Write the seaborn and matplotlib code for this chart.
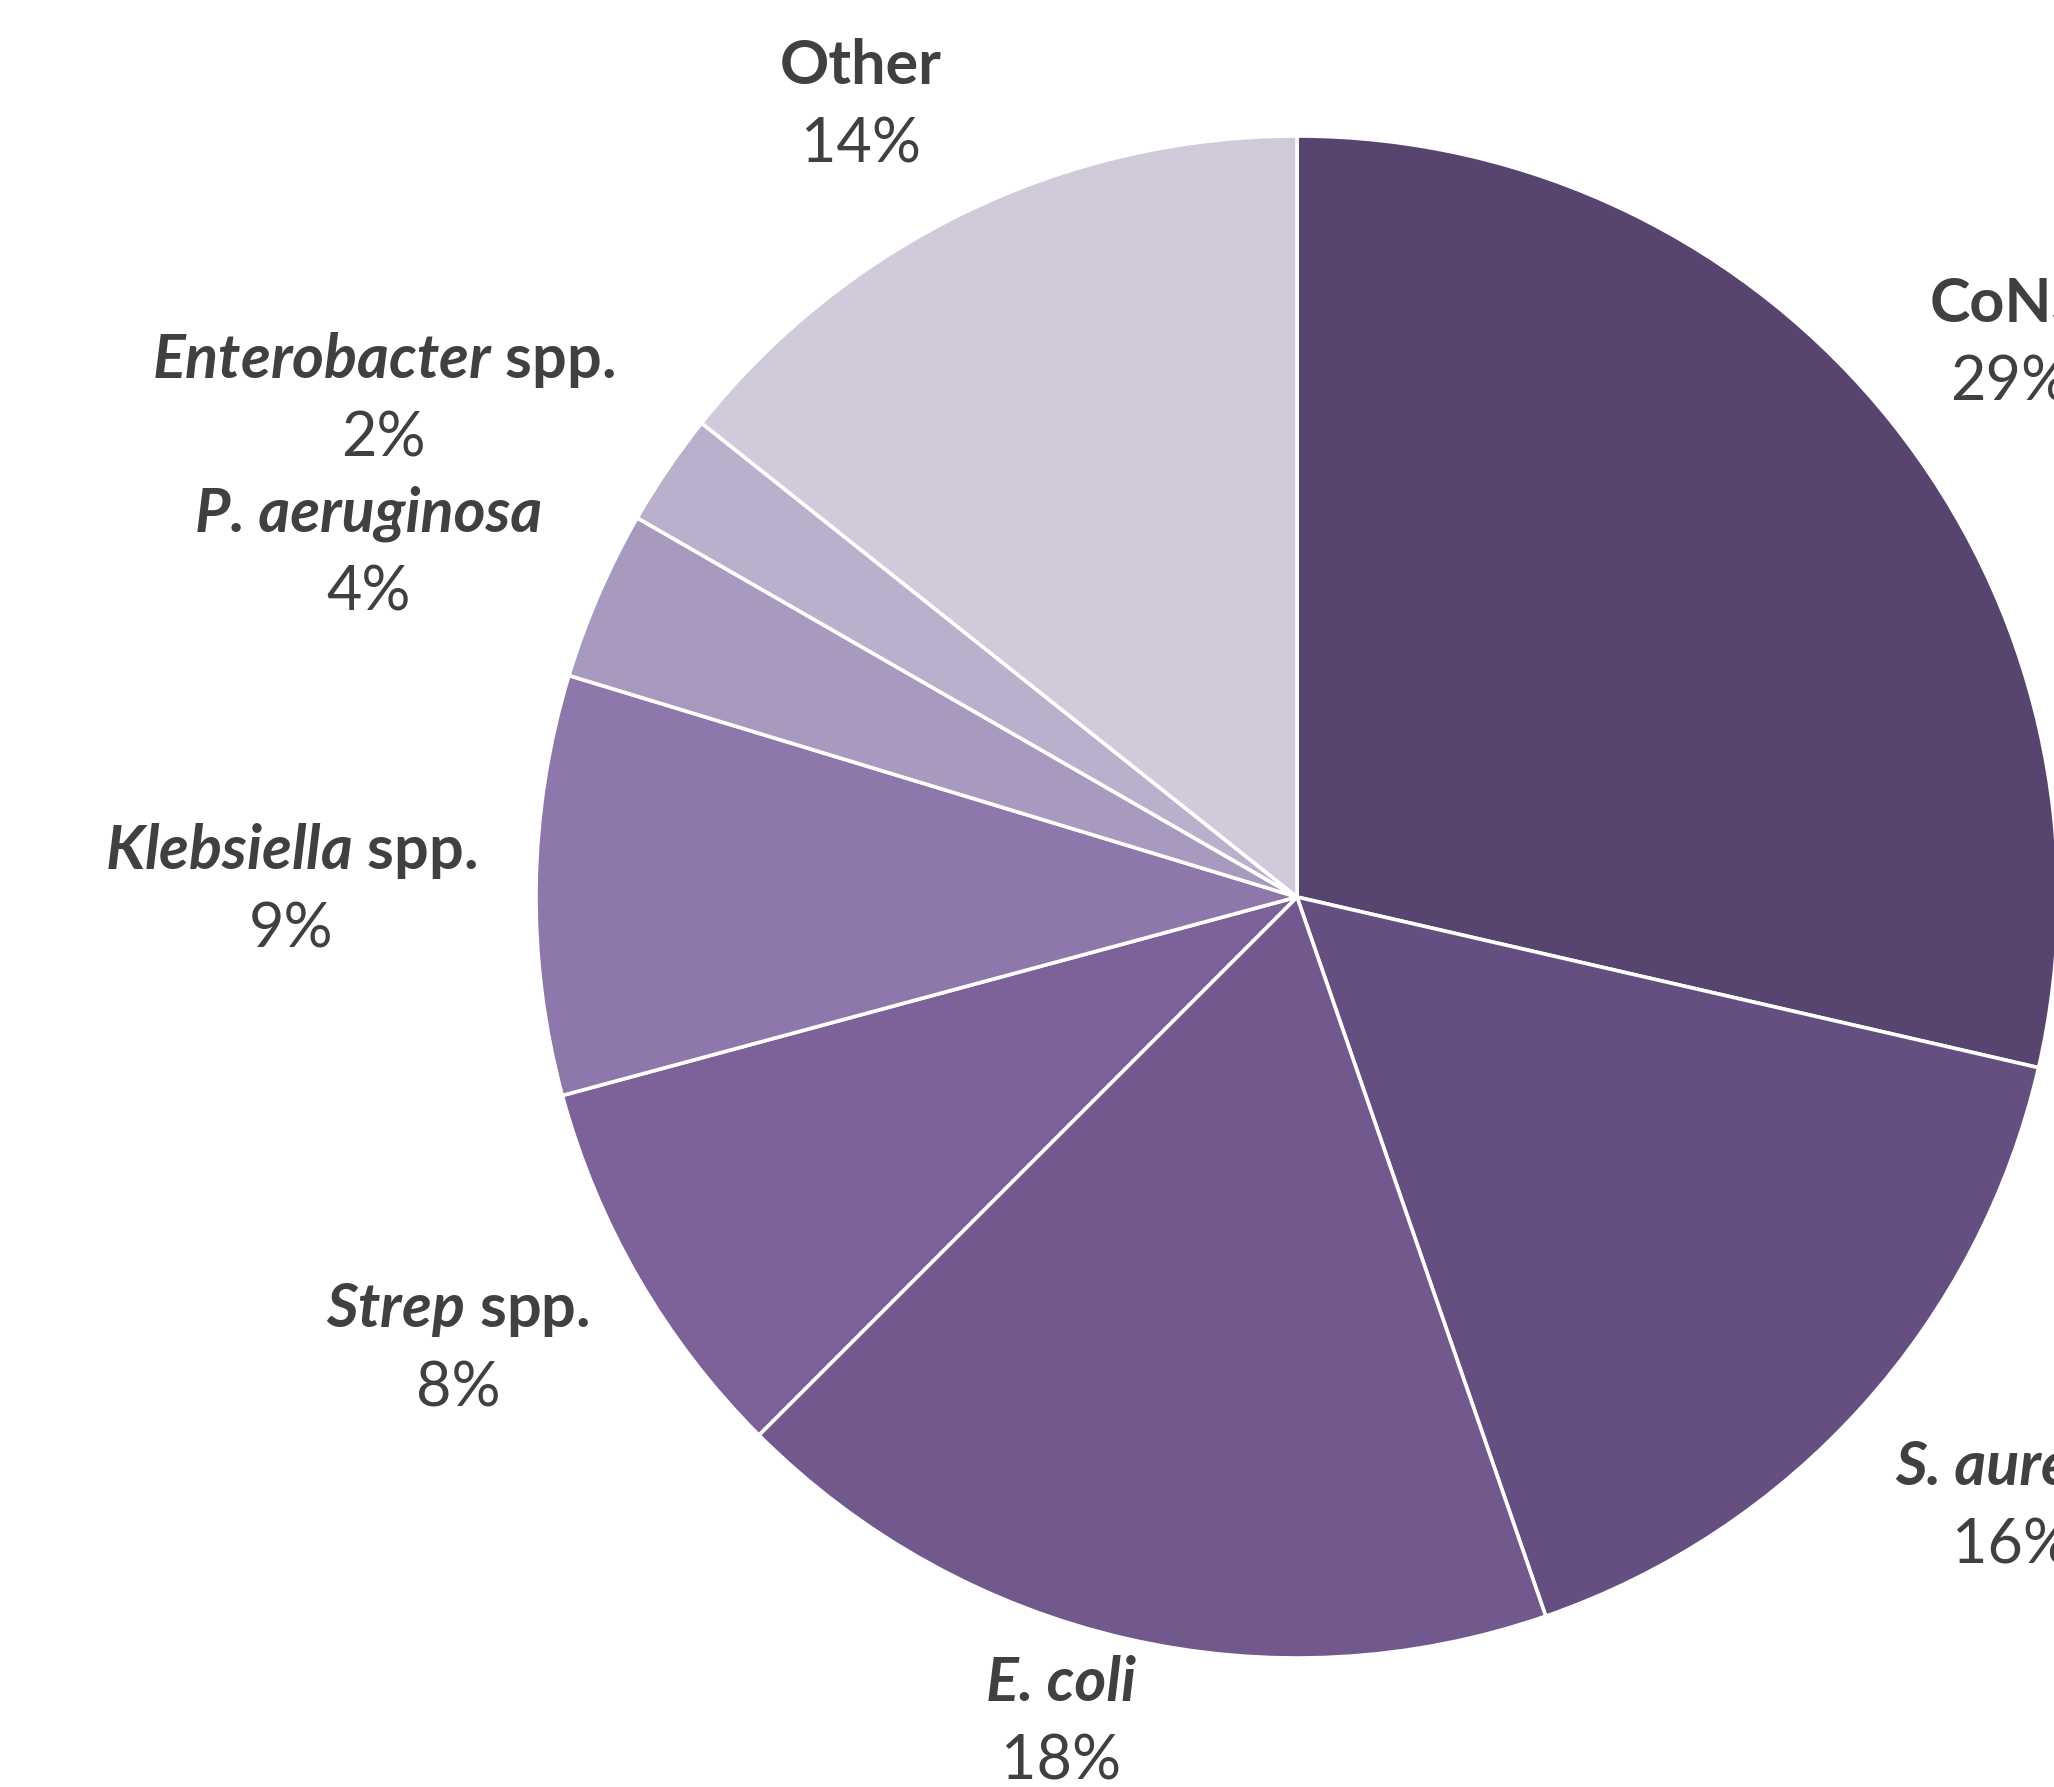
import matplotlib
matplotlib.use("Agg")
import matplotlib.pyplot as plt
import seaborn as sns

sns.set_theme(style="white")
plt.rcParams['font.family'] = ['Lato', 'DejaVu Sans']
plt.rcParams['mathtext.fontset'] = 'custom'
plt.rcParams['mathtext.bfit'] = 'Lato:bold:italic'
plt.rcParams['mathtext.it'] = 'Lato:italic'
plt.rcParams['mathtext.bf'] = 'Lato:bold'
plt.rcParams['mathtext.rm'] = 'Lato'

categories = ["CoNS", "S. aureus", "E. coli", "Strep spp.", "Klebsiella spp.",
              "P. aeruginosa", "Enterobacter spp.", "Other"]
label_texts = ["CoNS", "S. aureus", "E. coli",
               r"$\mathbfit{Strep}$ spp.", r"$\mathbfit{Klebsiella}$ spp.",
               "P. aeruginosa", r"$\mathbfit{Enterobacter}$ spp.", "Other"]
label_styles = ["normal", "italic", "italic", "normal", "normal",
                "italic", "normal", "normal"]
values = [28.6, 16.1, 17.8, 8.3, 8.9, 3.6, 2.4, 14.3]
colors = ["#57456F", "#654F80", "#71598D", "#7D6299", "#8E77AA",
          "#A899BE", "#BBB0CB", "#D1CADB"]
# label anchor positions (pixels, from top-left) for name line
label_pos = [(2008, 304), (2012, 1467), (1061, 1683), (458, 1310),
             (291, 851), (369, 514), (383, 360), (861, 66)]
pct_dx = [2, 0, 0, 0, 0, 0, 0, 0]

W, H = 2054, 1787
fig = plt.figure(figsize=(W / 100, H / 100), dpi=100)
ax = fig.add_axes([0, 0, 1, 1])
cx, cy, r = 1297, H - 897, 761
ax.pie(values, colors=colors, startangle=90, counterclock=False,
       center=(cx, cy), radius=r,
       wedgeprops=dict(edgecolor="white", linewidth=2.6))
ax.set_xlim(0, W)
ax.set_ylim(0, H)
ax.set_aspect("equal")
ax.axis("off")

total = sum(values)
txtc = "#404040"
for lab, st, v, (x, y), dx in zip(label_texts, label_styles, values, label_pos, pct_dx):
    ax.text(x, H - y, lab, ha="center", va="center", fontsize=44,
            fontweight="bold", fontstyle=st, color=txtc)
    ax.text(x + dx, H - y - 79, f"{round(v / total * 100)}%", ha="center",
            va="center", fontsize=44, color=txtc)

fig.savefig("out.png", dpi=100, facecolor="white")
